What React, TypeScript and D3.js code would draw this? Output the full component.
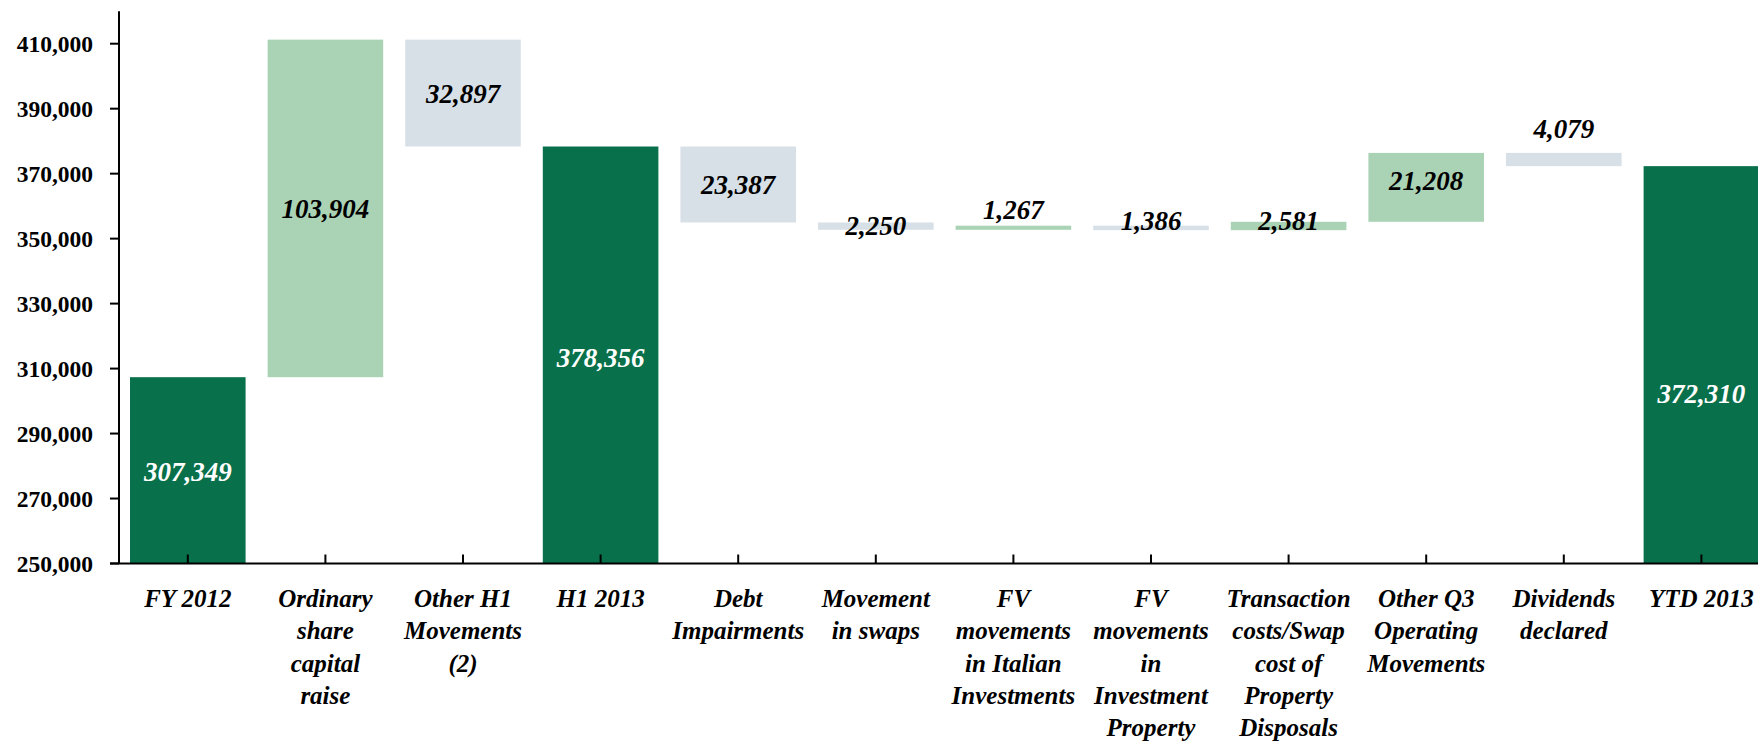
import React from "react";
import * as d3 from "d3";

const categories = [
  "FY 2012", "Ordinary share capital raise", "Other H1 Movements (2)", "H1 2013",
  "Debt Impairments", "Movement in swaps", "FV movements in Italian Investments",
  "FV movements in Investment Property", "Transaction costs/Swap cost of Property Disposals",
  "Other Q3 Operating Movements", "Dividends declared", "YTD 2013",
];

const categoryLines = [
  ["FY 2012"],
  ["Ordinary", "share", "capital", "raise"],
  ["Other H1", "Movements", "(2)"],
  ["H1 2013"],
  ["Debt", "Impairments"],
  ["Movement", "in swaps"],
  ["FV", "movements", "in Italian", "Investments"],
  ["FV", "movements", "in", "Investment", "Property"],
  ["Transaction", "costs/Swap", "cost of", "Property", "Disposals"],
  ["Other Q3", "Operating", "Movements"],
  ["Dividends", "declared"],
  ["YTD 2013"],
];

// signed movements; totals are absolute levels
const values = [307349, 103904, -32897, 378356, -23387, -2250, 1267, -1386, 2581, 21208, -4079, 372310];
const isTotal = [true, false, false, true, false, false, false, false, false, false, false, true];

const yTicks = [250000, 270000, 290000, 310000, 330000, 350000, 370000, 390000, 410000];
const yDomain = [250000, 420000];

// label vertical nudges (px) relative to bar middle
const labelNudge = [1, 0, 1, 3, 0, 0, -18, -7, -5, -7, -31, 29];

const W = 1758;
const H = 741;
const axisX = 119;
const y0px = 563.5;
const yTopPx = 43.7 - (563.5 - 43.7) / 16;

const DARK = "#08704A";
const LIGHT = "#AAD3B5";
const GREY = "#D8E0E7";

export default function App() {
  const x = d3.scaleBand<string>()
    .domain(categories)
    .range([axisX, axisX + 12 * 137.6])
    .paddingInner(0.16)
    .paddingOuter(0.08);
  const y = d3.scaleLinear().domain(yDomain).range([y0px, yTopPx]);
  const fmt = d3.format(",");

  let running = 0;
  const bars = categories.map((c, i) => {
    const v = values[i];
    let lo: number, hi: number, fill: string, labelColor: string;
    if (isTotal[i]) {
      lo = yDomain[0];
      hi = v;
      running = v;
      fill = DARK;
      labelColor = "#ffffff";
    } else {
      const start = running;
      const end = running + v;
      lo = Math.min(start, end);
      hi = Math.max(start, end);
      running = end;
      fill = v >= 0 ? LIGHT : GREY;
      labelColor = "#000000";
    }
    return { c, i, lo, hi, fill, labelColor, label: fmt(Math.abs(v)) };
  });

  const fontSerif = "'Liberation Serif', 'Times New Roman', serif";

  return (
    <svg
      width={W}
      height={H}
      viewBox={`0 0 ${W} ${H}`}
      style={{ position: "absolute", left: 0, top: 0, overflow: "hidden", background: "#fff" }}
    >
      <rect x={0} y={0} width={W} height={H} fill="#fff" />
      {bars.map((b) => {
        const top = y(b.hi);
        const bottom = y(b.lo);
        return (
          <rect
            key={b.c}
            x={x(b.c)!}
            y={top}
            width={x.bandwidth()}
            height={Math.max(bottom - top, 0)}
            fill={b.fill}
          />
        );
      })}
      {/* y axis */}
      <line x1={axisX} x2={axisX} y1={y(yDomain[1])} y2={y0px} stroke="#000" strokeWidth={2} />
      {yTicks.map((t) => (
        <g key={t}>
          <line x1={axisX - 9} x2={axisX} y1={y(t)} y2={y(t)} stroke="#000" strokeWidth={2} />
          <text
            x={axisX - 26}
            y={y(t) + 8}
            textAnchor="end"
            fontFamily={fontSerif}
            fontWeight="bold"
            fontSize={23.5}
            fill="#000"
          >
            {fmt(t)}
          </text>
        </g>
      ))}
      {/* x axis */}
      <line x1={axisX - 9} x2={W} y1={y0px} y2={y0px} stroke="#000" strokeWidth={2} />
      {categories.map((c) => {
        const cx = x(c)! + x.bandwidth() / 2;
        return (
          <line key={c} x1={cx} x2={cx} y1={y0px} y2={y0px - 9} stroke="#000" strokeWidth={2} />
        );
      })}
      {/* category labels */}
      {categories.map((c, i) => {
        const cx = x(c)! + x.bandwidth() / 2;
        return (
          <text
            key={c}
            textAnchor="middle"
            fontFamily={fontSerif}
            fontStyle="italic"
            fontWeight="bold"
            fontSize={25}
            fill="#000"
          >
            {categoryLines[i].map((line, k) => (
              <tspan key={k} x={cx} y={606.7 + k * 32.4}>
                {line}
              </tspan>
            ))}
          </text>
        );
      })}
      {/* value labels */}
      {bars.map((b) => {
        const cx = x(b.c)! + x.bandwidth() / 2;
        const mid = (y(b.hi) + y(b.lo)) / 2 + labelNudge[b.i];
        return (
          <text
            key={b.c}
            x={cx}
            y={mid + 9.2}
            textAnchor="middle"
            fontFamily={fontSerif}
            fontStyle="italic"
            fontWeight="bold"
            fontSize={27}
            fill={b.labelColor}
          >
            {b.label}
          </text>
        );
      })}
    </svg>
  );
}
